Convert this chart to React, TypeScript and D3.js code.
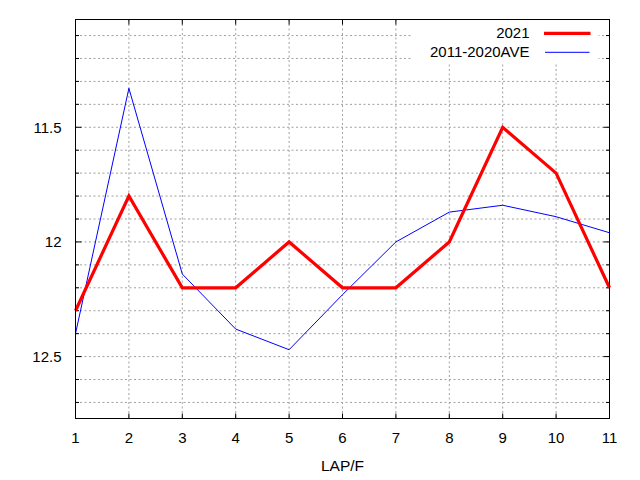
import React from "react";
import * as d3 from "d3";

// lap numbers and lap times
const laps = [1, 2, 3, 4, 5, 6, 7, 8, 9, 10, 11];
const times2021 = [12.3, 11.8, 12.2, 12.2, 12.0, 12.2, 12.2, 12.0, 11.5, 11.7, 12.2];
const timesAve = [12.4, 11.33, 12.14, 12.38, 12.47, 12.23, 12.0, 11.87, 11.84, 11.89, 11.96];
const majorTicks = [11.5, 12, 12.5];
const minorTicks = [11.1, 11.2, 11.3, 11.4, 11.6, 11.7, 11.8, 11.9, 12.1, 12.2, 12.3, 12.4, 12.6, 12.7];
const seriesNames = ["2021", "2011-2020AVE"];

const width = 640;
const height = 480;
const margin = { top: 19.5, right: 30.5, bottom: 61.5, left: 75.5 };

const App: React.FC = () => {
  const innerW = width - margin.left - margin.right;
  const innerH = height - margin.top - margin.bottom;

  const x = d3.scaleLinear().domain([1, 11]).range([0, innerW]);
  // inverted axis: faster times at the top
  const y = d3.scaleLinear().domain([11.03, 12.77]).range([0, innerH]);

  const line = d3
    .line<number>()
    .x((_, i) => x(laps[i]))
    .y((d) => y(d));

  const font = "'Liberation Sans', Arial, sans-serif";
  const gridColor = "#a0a0a0";
  const allY = [...majorTicks, ...minorTicks];

  return (
    <div style={{ position: "fixed", left: 0, top: 0 }}>
      <svg width={width} height={height} style={{ display: "block", background: "#fff" }}>
        <g transform={`translate(${margin.left},${margin.top})`}>
          {/* grid */}
          {allY.map((v) => (
            <line
              key={"gy" + v}
              x1={0}
              x2={innerW}
              y1={y(v)}
              y2={y(v)}
              stroke={gridColor}
              strokeWidth={1}
              strokeDasharray="2,2.5"
            />
          ))}
          {laps.slice(1, -1).map((v) => (
            <line
              key={"gx" + v}
              x1={x(v)}
              x2={x(v)}
              y1={0}
              y2={innerH}
              stroke={gridColor}
              strokeWidth={1}
              strokeDasharray="2,2.5"
            />
          ))}

          {/* ticks */}
          {minorTicks.map((v) => (
            <g key={"mt" + v}>
              <line x1={0} x2={3.5} y1={y(v)} y2={y(v)} stroke="#000" />
              <line x1={innerW} x2={innerW - 3.5} y1={y(v)} y2={y(v)} stroke="#000" />
            </g>
          ))}
          {majorTicks.map((v) => (
            <g key={"jt" + v}>
              <line x1={0} x2={6} y1={y(v)} y2={y(v)} stroke="#000" />
              <line x1={innerW} x2={innerW - 6} y1={y(v)} y2={y(v)} stroke="#000" />
              <text
                x={-14}
                y={y(v)}
                dy="0.35em"
                textAnchor="end"
                fontFamily={font}
                fontSize={15}
              >
                {v}
              </text>
            </g>
          ))}
          {laps.map((v) => (
            <g key={"xt" + v}>
              <line x1={x(v)} x2={x(v)} y1={innerH} y2={innerH - 5} stroke="#000" />
              <line x1={x(v)} x2={x(v)} y1={0} y2={5} stroke="#000" />
              <text
                x={x(v)}
                y={innerH + 24}
                textAnchor="middle"
                fontFamily={font}
                fontSize={15}
              >
                {v}
              </text>
            </g>
          ))}

          {/* series */}
          <path d={line(timesAve) ?? ""} fill="none" stroke="#0000ff" strokeWidth={1} />
          <path
            d={line(times2021) ?? ""}
            fill="none"
            stroke="#ff0000"
            strokeWidth={3.2}
          />

          {/* legend */}
          <rect x={337} y={0.5} width={186} height={42} fill="#fff" />
          <text x={454} y={18.2} textAnchor="end" fontFamily={font} fontSize={15}>
            {seriesNames[0]}
          </text>
          <line x1={468.5} x2={515} y1={13.8} y2={13.8} stroke="#ff0000" strokeWidth={3.2} />
          <text x={454} y={37.2} textAnchor="end" fontFamily={font} fontSize={15}>
            {seriesNames[1]}
          </text>
          <line x1={469.5} x2={514} y1={32.8} y2={32.8} stroke="#0000ff" strokeWidth={1} />

          {/* border */}
          <rect x={0} y={0} width={innerW} height={innerH} fill="none" stroke="#000" strokeWidth={1} />

          <text
            x={innerW / 2}
            y={innerH + 52.5}
            textAnchor="middle"
            fontFamily={font}
            fontSize={15.5}
          >
            LAP/F
          </text>
        </g>
      </svg>
    </div>
  );
};

export default App;
